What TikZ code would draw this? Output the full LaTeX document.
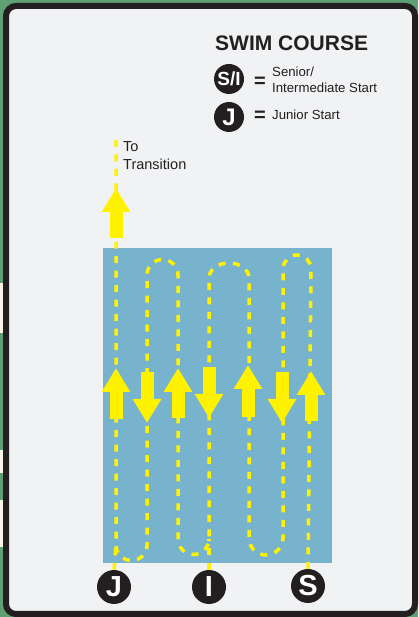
\documentclass[tikz,border=0pt]{standalone}
\usepackage{fontspec}
\setmainfont{Liberation Sans}
\usetikzlibrary{arrows.meta}
\definecolor{poolblue}{HTML}{77B3CD}
\definecolor{laneyellow}{HTML}{FFF200}
\definecolor{inkblack}{HTML}{231F20}
\definecolor{panelgray}{HTML}{F1F2F4}
\definecolor{mapgreen}{HTML}{5E9F74}
\definecolor{mapcream}{HTML}{F8F4EC}
\begin{document}
\begin{tikzpicture}[x=1pt, y=1pt,
    startdot/.style={circle, fill=inkblack, text=white, inner sep=0pt,
      minimum size=34pt, font=\fontsize{29}{29}\selectfont\bfseries},
    keydot/.style={startdot, minimum size=30pt},
    course/.style={laneyellow, line width=3.5pt, dash pattern=on 7pt off 7.5pt},
    lanearrow/.style={laneyellow, line width=13pt,
      -{Triangle[width=27pt, length=24pt]}},
    keytext/.style={inner sep=0pt, text=inkblack,
      font=\fontsize{13.2}{15}\selectfont}]
  \useasboundingbox (0,0) rectangle (418,617);
  % map behind the card
  \fill[mapgreen] (0,0) rectangle (418,617);
  \fill[mapcream] (0,284) rectangle (4,334);
  \fill[mapcream] (0,144) rectangle (4,167);
  \fill[mapcream] (0,70) rectangle (4,117);
  % card and pool
  \draw[inkblack, line width=6pt, fill=panelgray, rounded corners=10pt]
    (6,3) rectangle (415,611);
  \fill[poolblue] (103,54) rectangle (332,369);
  % start marks
  \node[startdot] (J) at (114,30) {J};
  \node[startdot] (I) at (209,30) {I};
  \node[startdot] (S) at (308,31) {S};
  \coordinate (exit) at (116,482);
  % course, from S to the exit
  \draw[course] (S.north) -- (311,348) arc[start angle=0, end angle=180, radius=14]
    -- (283,79) arc[start angle=0, end angle=-180, radius=17]
    -- (249,339) arc[start angle=0, end angle=180, x radius=20, y radius=15]
    -- (209,78) arc[start angle=0, end angle=-180, radius=15.5]
    -- (178,342) arc[start angle=0, end angle=180, radius=15.5]
    -- (147,72) arc[start angle=0, end angle=-180, radius=15.5]
    -- (exit);
  \draw[course] (I.north) -- (209,78);
  \draw[course] (J.north) -- (116,72);
  % swim direction
  \foreach \x/\from/\to in {116/198/249, 147/245/194, 178/199/249, 209/250/199,
      248/200/252, 282/245/194, 311/196/246, 116/379/429}
    \draw[lanearrow] (\x,\from) -- (\x,\to);
  \node[keytext, anchor=base west, font=\fontsize{14.5}{14.5}\selectfont] (to) at (123,465) {To};
  \node[keytext, anchor=base west, font=\fontsize{14.5}{14.5}\selectfont] (transition) at (123,447) {Transition};
  % legend
  \node[anchor=base west, inner sep=0pt, text=inkblack,
    font=\fontsize{21}{21}\selectfont\bfseries] (title) at (215,566) {SWIM COURSE};
  \node[keydot, font=\fontsize{19}{19}\selectfont\bfseries] (keysi) at (229,538) {S/I};
  \node[keydot, font=\fontsize{24}{24}\selectfont\bfseries] (keyj) at (229,500) {J};
  \node[keytext, font=\fontsize{20}{20}\selectfont\bfseries] (eqsi) at (260,535) {=};
  \node[keytext, font=\fontsize{20}{20}\selectfont\bfseries] (eqj) at (260,501) {=};
  \node[keytext, anchor=base west] (senior) at (272,540) {Senior/};
  \node[keytext, anchor=base west] (intermediate) at (272,524) {Intermediate Start};
  \node[keytext, anchor=base west] (junior) at (272,497) {Junior Start};
\end{tikzpicture}
\end{document}
